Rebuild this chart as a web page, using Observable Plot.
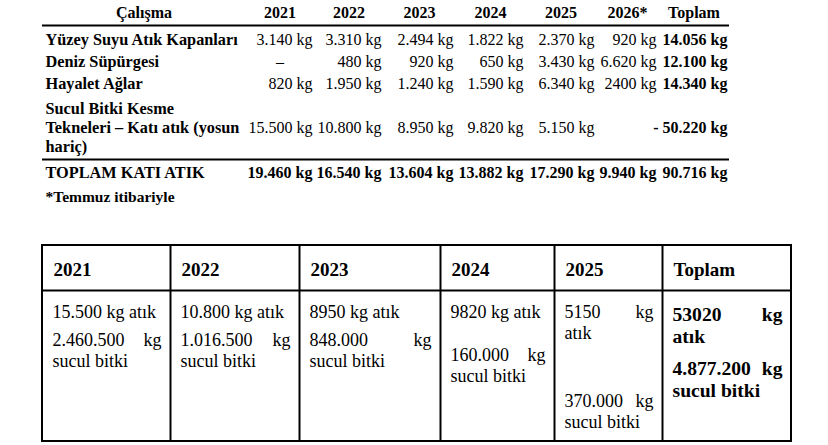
<!DOCTYPE html>
<html><head><meta charset="utf-8">
<script src="https://cdn.jsdelivr.net/npm/d3@7"></script>
<script src="https://cdn.jsdelivr.net/npm/@observablehq/plot@0.6"></script>
<style>html,body{margin:0;padding:0;background:#fff}</style>
</head><body><div id="chart"></div>
<script>
// ---------------- data ----------------
const headerLabel = "Çalışma";
const years = ["2021", "2022", "2023", "2024", "2025", "2026*"];
const totalLabel = "Toplam";
const methods = [
  "Yüzey Suyu Atık Kapanları",
  "Deniz Süpürgesi",
  "Hayalet Ağlar",
  "Sucul Bitki Kesme\nTekneleri – Katı atık (yosun hariç)"
];
const yuzeyValues   = ["3.140 kg", "3.310 kg", "2.494 kg", "1.822 kg", "2.370 kg", "920 kg"];
const denizValues   = ["–", "480 kg", "920 kg", "650 kg", "3.430 kg", "6.620 kg"];
const hayaletValues = ["820 kg", "1.950 kg", "1.240 kg", "1.590 kg", "6.340 kg", "2400 kg"];
const suculValues   = ["15.500 kg", "10.800 kg", "8.950 kg", "9.820 kg", "5.150 kg", ""];
const methodTotals  = ["14.056 kg", "12.100 kg", "14.340 kg", "- 50.220 kg"];
const grandLabel = "TOPLAM KATI ATIK";
const grandValues = ["19.460 kg", "16.540 kg", "13.604 kg", "13.882 kg", "17.290 kg", "9.940 kg"];
const grandTotal = "90.716 kg";
const footnote = "*Temmuz itibariyle";

const boatYears  = ["2021", "2022", "2023", "2024", "2025", "Toplam"];
const boatWaste  = ["15.500 kg atık", "10.800 kg atık", "8950 kg atık", "9820 kg atık", "5150 kg atık", "53020 kg atık"];
const boatPlants = ["2.460.500 kg sucul bitki", "1.016.500 kg sucul bitki", "848.000 kg sucul bitki",
                    "160.000 kg sucul bitki", "370.000 kg sucul bitki", "4.877.200 kg sucul bitki"];

// ---------------- layout ----------------
const FONT = "Liberation Serif";
const topLeft = 42;
const topColW = [203, 69, 69, 72, 70, 71, 62, 71];
const botLeft = 42, botTop = 245, botHeadRule = 290, botBottom = 441;
const botColW = [128, 129, 141, 114, 108, 129];
const paraGap = [7, 7, 7, 22, 47, 10];

const ctx = document.createElement("canvas").getContext("2d");
function measure(t, size, weight) {
  ctx.font = `${weight} ${size}px "${FONT}"`;
  return ctx.measureText(t).width;
}
function wrap(text, maxW, size, weight) {
  const lines = [];
  for (const hard of text.split("\n")) {
    const words = hard.split(" ");
    let cur = [];
    for (const w of words) {
      const trial = [...cur, w].join(" ");
      if (cur.length && measure(trial, size, weight) > maxW) { lines.push(cur); cur = [w]; }
      else cur.push(w);
    }
    if (cur.length) lines.push(cur);
  }
  return lines;
}
const cum = (start, ws) => ws.reduce((a, w) => (a.push(a[a.length - 1] + w), a), [start]);

const texts = [];
// ---- top table ----
const topEdges = cum(topLeft, topColW);
const center = j => (topEdges[j] + topEdges[j + 1]) / 2;
const HB = 17;
texts.push({x: center(0), y: HB, text: headerLabel, anchor: "middle", weight: "bold", size: 16});
years.forEach((yr, j) => texts.push({x: center(j + 1), y: HB, text: yr, anchor: "middle", weight: "bold", size: 16}));
texts.push({x: center(7), y: HB, text: totalLabel, anchor: "middle", weight: "bold", size: 16});

const rule1 = 25;
const rows = [yuzeyValues, denizValues, hayaletValues, suculValues];
const LH = 19;
let rowTop = rule1 + 2;
rows.forEach((vals, i) => {
  const lines = wrap(methods[i], topColW[0] - 5, 16.3, "bold").map(l => l.join(" "));
  const n = lines.length, pad = n > 1 ? 3 : 0;
  const first = rowTop + pad + 17;
  lines.forEach((l, k) => texts.push({x: topLeft + 3, y: first + k * LH, text: l, anchor: "start", weight: "bold", size: 16.3}));
  const vy = first + Math.floor((n - 1) / 2) * LH;
  vals.forEach((v, j) => {
    if (!v) return;
    if (v === "–") texts.push({x: center(j + 1), y: vy, text: v, anchor: "middle", weight: "normal", size: 16});
    else texts.push({x: topEdges[j + 2] - 2, y: vy, text: v, anchor: "end", weight: "normal", size: 16});
  });
  texts.push({x: topEdges[8] - 2, y: vy, text: methodTotals[i], anchor: "end", weight: "bold", size: 16});
  rowTop += 22 + (n - 1) * LH + 2 * pad;
});
const rule2 = rowTop;
const gy = rule2 + 18;
texts.push({x: topLeft + 3, y: gy, text: grandLabel, anchor: "start", weight: "bold", size: 16.3});
grandValues.forEach((v, j) => texts.push({x: topEdges[j + 2] - 2, y: gy, text: v, anchor: "end", weight: "bold", size: 16}));
texts.push({x: topEdges[8] - 2, y: gy, text: grandTotal, anchor: "end", weight: "bold", size: 16});
texts.push({x: topLeft + 3, y: gy + 24, text: footnote, anchor: "start", weight: "bold", size: 15.5});

// ---- bottom table ----
const botEdges = cum(botLeft, botColW);
boatYears.forEach((yr, j) => texts.push({x: botEdges[j] + 11, y: botTop + 30, text: yr, anchor: "start", weight: "bold", size: 19}));
boatYears.forEach((_, j) => {
  const isTotal = j === boatYears.length - 1;
  const size = isTotal ? 19.6 : 18, weight = isTotal ? "bold" : "normal", lh = isTotal ? 22 : 21;
  const x0 = botEdges[j] + 10, maxW = botEdges[j + 1] - 9 - x0;
  let y = botHeadRule + (isTotal ? 30 : 27);
  [boatWaste[j], boatPlants[j]].forEach((para, p) => {
    if (p > 0) y += paraGap[j];
    const lines = wrap(para, maxW, size, weight);
    lines.forEach((words, k) => {
      const last = k === lines.length - 1;
      if (last || words.length === 1) {
        texts.push({x: x0, y, text: words.join(" "), anchor: "start", weight, size});
      } else {
        const ws = words.map(w => measure(w, size, weight));
        const gap = (maxW - d3.sum(ws)) / (words.length - 1);
        let x = x0;
        words.forEach((w, q) => { texts.push({x, y, text: w, anchor: "start", weight, size}); x += ws[q] + gap; });
      }
      y += lh;
    });
  });
});

const textMarks = [];
for (const a of ["start", "middle", "end"]) for (const w of ["normal", "bold"]) {
  const sub = texts.filter(d => d.anchor === a && d.weight === w);
  if (sub.length) textMarks.push(Plot.text(sub, {
    x: "x", y: "y", text: "text", textAnchor: a, lineAnchor: "bottom",
    fontWeight: w, fontSize: d => d.size, fontFamily: FONT, fill: "black"
  }));
}

const chart = Plot.plot({
  width: 828, height: 445, margin: 0,
  x: {type: "identity", axis: null},
  y: {type: "identity", axis: null},
  style: {fontFamily: FONT, background: "white", color: "black"},
  marks: [
    Plot.ruleY([rule1, rule2], {x1: topEdges[0], x2: topEdges[8], stroke: "black", strokeWidth: 2}),
    Plot.rect([0], {x1: botEdges[0], x2: botEdges[6], y1: botTop, y2: botBottom, fill: "none", stroke: "black", strokeWidth: 2}),
    Plot.ruleX(botEdges.slice(1, -1), {y1: botTop, y2: botBottom, stroke: "black", strokeWidth: 2}),
    Plot.ruleY([botHeadRule], {x1: botEdges[0], x2: botEdges[6], stroke: "black", strokeWidth: 2}),
    ...textMarks
  ]
});
document.getElementById("chart").appendChild(chart);
</script>
</body></html>
